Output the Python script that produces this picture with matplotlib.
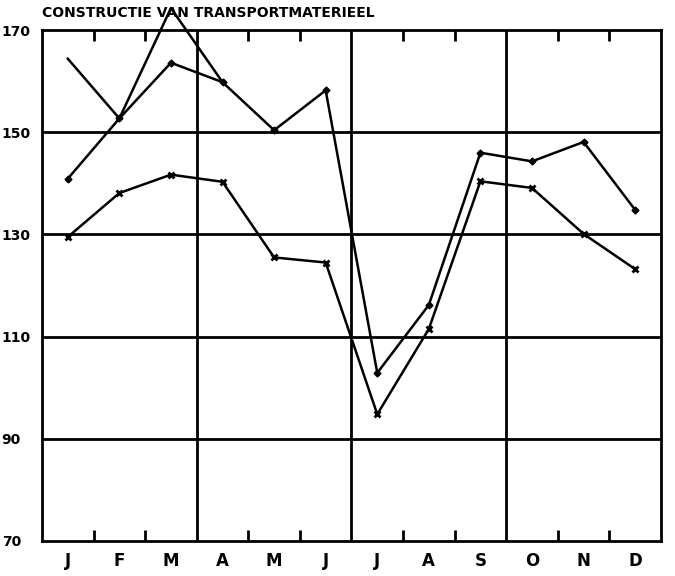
import matplotlib.pyplot as plt
import numpy as np

# months and the three series
months = ["J", "F", "M", "A", "M", "J", "J", "A", "S", "O", "N", "D"]
series_x = [129.5, 138.1, 141.7, 140.3, 125.5, 124.5, 94.8, 111.5, 140.4, 139.1, 130.1, 123.2]
series_d = [140.9, 152.7, 163.6, 159.8, 150.4, 158.2, 102.9, 116.2, 146.0, 144.3, 148.1, 134.8]
series_partial = [164.4, 152.7, 174.3, 159.8]
y_ticks = [70, 90, 110, 130, 150, 170]

fig = plt.figure(figsize=(6.75, 5.76), dpi=100)
ax = fig.add_axes([0.0622, 0.0608, 0.917, 0.887])

xpos = np.arange(len(months)) + 0.5

ax.plot(xpos, series_x, color="black", lw=1.8, marker="x", ms=5, mew=2, clip_on=False, zorder=3)
ax.plot(xpos, series_d, color="black", lw=1.8, marker="D", ms=3.5, clip_on=False, zorder=3)
ax.plot(xpos[:len(series_partial)], series_partial, color="black", lw=1.8, clip_on=False, zorder=3)

ax.set_xlim(0, 12)
ax.set_ylim(70, 170)

# grid: horizontal at every y tick, vertical at quarter boundaries
for y in y_ticks[1:-1]:
    ax.axhline(y, color="black", lw=2, zorder=1)
for x in [3, 6, 9]:
    ax.axvline(x, color="black", lw=2, zorder=1)

ax.set_xticks(xpos)
ax.set_xticklabels(months, fontweight="bold", fontsize=12)
ax.set_xticks([1, 2, 4, 5, 7, 8, 10, 11], minor=True)
ax.tick_params(axis="x", which="major", length=0, pad=8)
ax.tick_params(axis="x", which="minor", direction="in", length=8, width=2, top=True, bottom=True)

ax.set_yticks(y_ticks)
ax.set_yticklabels([str(v) for v in y_ticks], fontweight="bold", fontsize=10, ha="left")
ax.tick_params(axis="y", which="major", length=0, pad=29)

for s in ax.spines.values():
    s.set_linewidth(2)

fig.text(0.0622, 0.978, "CONSTRUCTIE VAN TRANSPORTMATERIEEL", fontsize=10,
         fontweight="bold", ha="left", va="center")

fig.savefig("out.png", dpi=100)
